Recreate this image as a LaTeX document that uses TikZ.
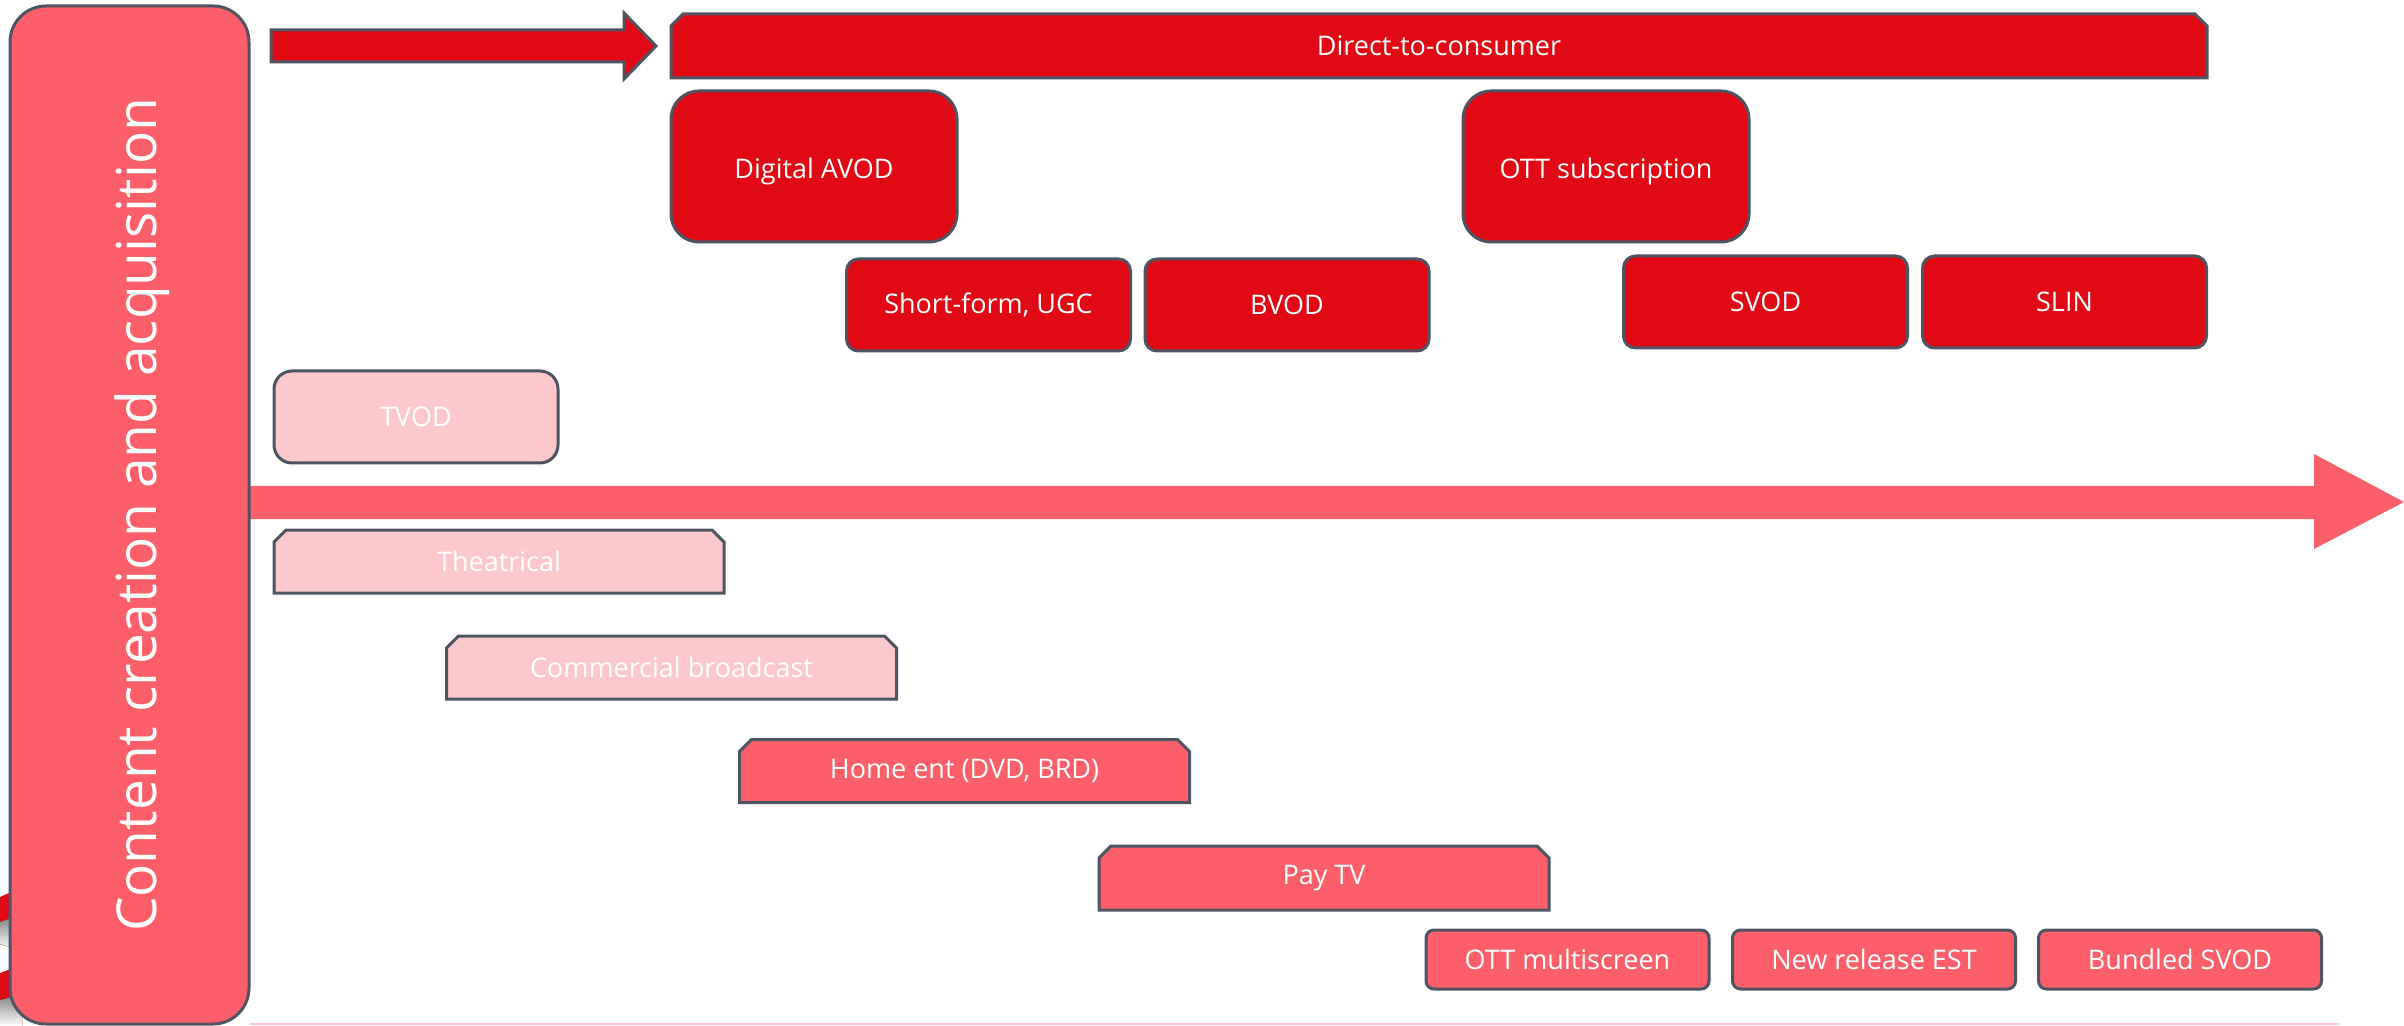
\documentclass[tikz,border=0pt]{standalone}
\usepackage{fontspec}
\setmainfont{Open Sans}
\usepackage{tikz}
\usetikzlibrary{shapes.misc}
\definecolor{deep}{HTML}{E10913}
\definecolor{warm}{HTML}{FC5F69}
\definecolor{pale}{HTML}{FDC8CC}
\definecolor{edge}{HTML}{4E5462}
\definecolor{shade}{HTML}{9E0A12}

\begin{document}
\begin{tikzpicture}[x=0.5pt, y=-0.5pt]
\tikzset{Box/.style={shape=rectangle, draw=edge, line width=1.5pt, text=white, inner sep=0pt, font=\fontsize{13.5}{16}\selectfont}}
\tikzset{Snip/.style={Box, shape=chamfered rectangle, chamfered rectangle corners={north west, north east}, chamfered rectangle xsep=3pt, chamfered rectangle ysep=3pt, minimum width=225pt, minimum height=31.5pt}}
\tikzset{Big/.style={Box, fill=deep, rounded corners=14pt, minimum width=143pt, minimum height=75.5pt, text height=15pt, text depth=3pt}}
\tikzset{Small/.style={Box, rounded corners=6pt, minimum width=142pt, minimum height=46pt}}
\tikzset{Tiny/.style={Box, fill=warm, rounded corners=4pt, minimum width=141.5pt, minimum height=29.5pt}}
\useasboundingbox (0,0) rectangle (2404,1026);

% bits of the picture behind the bar
\fill[deep] (0,897) -- (20,888) -- (20,950) -- (0,944) -- cycle;
\fill[shade] (0,922) -- (20,915) -- (20,950) -- (0,944) -- cycle;
\fill[deep] (0,973) -- (22,965) -- (22,1026) -- (0,1026) -- cycle;
\fill[shade] (0,1000) -- (22,994) -- (22,1026) -- (0,1026) -- cycle;

% timeline
\fill[warm] (200,486) -- (2314,486) -- (2314,454) -- (2404,502) -- (2314,549) -- (2314,519) -- (200,519) -- cycle;
\draw[pale, line width=0.8pt] (250,1024) -- (2339,1024);

% nodes
\node[Box, fill=warm, rounded corners=18pt, minimum width=119.5pt, minimum height=509pt] (cca) at (129.5,515) {};
\node[rotate=90, anchor=base, text=white, font=\fontsize{27.5}{30}\selectfont] (ccaLabel) at (156,515) {Content creation and acquisition};

\node[Snip, fill=deep, minimum width=768pt, minimum height=32pt, text height=13pt, text depth=3pt] (dtc) at (1439,46) {Direct-to-consumer};
\node[Big] (avod) at (814,166.5) {Digital AVOD};
\node[Big] (ott) at (1606,166.5) {OTT subscription};

\node[Small, fill=deep] (ugc) at (988.5,305) {Short-form, UGC};
\node[Small, fill=deep] (bvod) at (1287,305) {BVOD};
\node[Small, fill=deep] (svod) at (1765.5,302) {SVOD};
\node[Small, fill=deep] (slin) at (2064.5,302) {SLIN};

\node[Small, fill=pale, rounded corners=9pt] (tvod) at (416,417) {TVOD};

\node[Snip, fill=pale] (theatre) at (499,561.5) {Theatrical};
\node[Snip, fill=pale] (bcast) at (671.5,667.5) {Commercial broadcast};
\node[Snip, fill=warm] (homeent) at (964.5,771) {Home ent (DVD, BRD)};
\node[Snip, fill=warm, minimum height=32pt] (paytv) at (1324,878) {Pay TV};

\node[Tiny] (ottms) at (1567.5,959.5) {OTT multiscreen};
\node[Tiny] (newest) at (1874,959.5) {New release EST};
\node[Tiny] (bundled) at (2180,959.5) {Bundled SVOD};

% arrows
\draw[Box, fill=deep] (271,30) -- (624,30) -- (624,13) -- (656,46) -- (624,79) -- (624,62) -- (271,62) -- cycle;
\end{tikzpicture}
\end{document}
